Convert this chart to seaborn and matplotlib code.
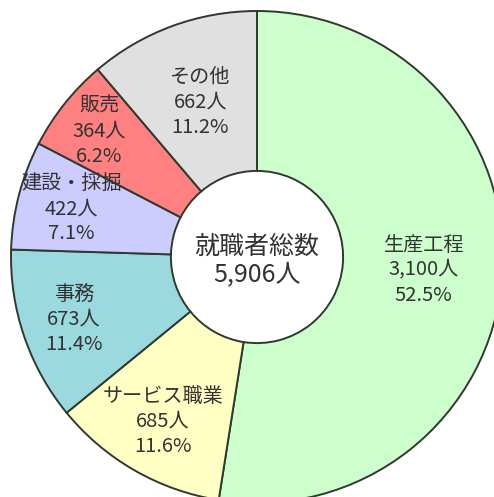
import matplotlib
matplotlib.use('Agg')
import matplotlib.pyplot as plt
import seaborn as sns
import numpy as np

# data
categories = ['生産工程', 'サービス職業', '事務', '建設・採掘', '販売', 'その他']
counts = [3100, 685, 673, 422, 364, 662]
center_title = '就職者総数'

# styles
colors = ['#CCFFCC', '#FFFFC4', '#9ADADF', '#CCCCFF', '#FF8080', '#E0E0E0']
label_radius = [0.68, 0.77, 0.785, 0.78, 0.82, 0.67]

sns.set_theme(style='white')
plt.rcParams['font.family'] = ['Noto Sans CJK JP', 'DejaVu Sans']

fig = plt.figure(figsize=(4.94, 4.97), dpi=100)
ax = fig.add_axes([0, 0, 1, 1])

total = sum(counts)
wedges, _ = ax.pie(counts, colors=colors, startangle=90, counterclock=False,
                   radius=1.0,
                   wedgeprops=dict(width=0.65, edgecolor='#2e3a2e', linewidth=1.4))

# labels placed along each wedge's mid angle
for w, name, n, r in zip(wedges, categories, counts, label_radius):
    ang = np.deg2rad((w.theta1 + w.theta2) / 2)
    pct = n / total * 100
    ax.text(r * np.cos(ang), r * np.sin(ang),
            '{}\n{:,}人\n{:.1f}%'.format(name, n, pct),
            ha='center', va='center', fontsize=14.5, color='#333333',
            linespacing=1.25)

ax.text(0, -0.015, '{}\n{:,}人'.format(center_title, total),
        ha='center', va='center', fontsize=18, color='#333333', linespacing=1.1)

# pie centre at pixel (257, 257), radius 246 px, cropped by the figure
s = 246.0
ax.set_xlim(-257 / s, (494 - 257) / s)
ax.set_ylim(-(497 - 257) / s, 257 / s)
ax.set_aspect('auto')
ax.axis('off')

fig.savefig('out.png', dpi=100, facecolor='white')
